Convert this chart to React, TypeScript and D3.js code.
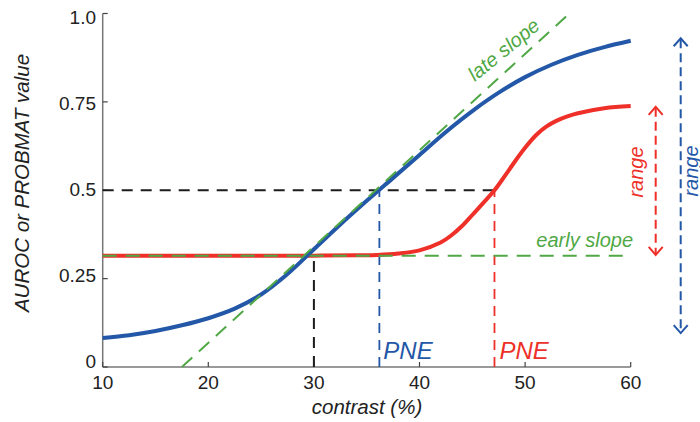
import React from "react";
import * as d3 from "d3";

// Contrast (%) sample points and the read-off curve values
const blueContrast = [10, 12.5, 15, 17.5, 20, 22.5, 25, 27.5, 30, 32.5, 35, 37.5, 40, 42.5, 45, 47.5, 50, 52.5, 55, 57.5, 60];
const blueValues = [0.082, 0.09, 0.102, 0.118, 0.138, 0.165, 0.205, 0.263, 0.333, 0.403, 0.47, 0.535, 0.6, 0.665, 0.724, 0.776, 0.82, 0.855, 0.883, 0.905, 0.923];

const redContrast = [10, 15, 20, 25, 30, 34, 36, 38, 40, 42, 43, 44, 45, 46, 47.1, 48, 49, 50, 51, 52, 53, 54, 55, 57.5, 60];
const redValues = [0.315, 0.315, 0.315, 0.315, 0.315, 0.316, 0.317, 0.321, 0.33, 0.352, 0.372, 0.398, 0.43, 0.463, 0.5, 0.537, 0.58, 0.62, 0.655, 0.68, 0.697, 0.709, 0.718, 0.732, 0.738];

// Reference lines
const earlySlope = [[10, 0.315], [60, 0.315]];
const lateSlope = [[17.5, 0], [54.2, 1.0]];
const halfLevel = 0.5;
const floorLevel = 0.315;
const crossContrast = 30;
const bluePNE = 36.2;
const redPNE = 47.1;

// Range arrows: [bottom, top] in value units
const redRange = [0.317, 0.736];
const blueRange = [0.096, 0.93];

// Axis ticks
const xTicks = [10, 20, 30, 40, 50, 60];
const yTicks = [0, 0.25, 0.5, 0.75, 1.0];
const yTickLabels = ["0", "0.25", "0.5", "0.75", "1.0"];

const BLUE = "#2357a7";
const RED = "#ee3029";
const GREEN = "#4fa845";
const BLACK = "#1c1c1c";
const AXIS = "#777";
const FONT = "'Liberation Sans', Arial, sans-serif";

export default function App() {
  const W = 700;
  const H = 422;
  const x = d3.scaleLinear().domain([10, 60]).range([102.7, 630.7]);
  const y = d3.scaleLinear().domain([0, 1]).range([367, 13.5]);
  // tick labels sit on a slightly tighter vertical spacing than the ticks
  const yLab = d3.scaleLinear().domain([0, 1]).range([361, 17.5]);

  const line = d3
    .line<[number, number]>()
    .x((d) => x(d[0]))
    .y((d) => y(d[1]))
    .curve(d3.curveCatmullRom.alpha(0.5));
  const straight = d3
    .line<[number, number]>()
    .x((d) => x(d[0]))
    .y((d) => y(d[1]));

  const bluePts = blueContrast.map((c, i) => [c, blueValues[i]] as [number, number]);
  const redPts = redContrast.map((c, i) => [c, redValues[i]] as [number, number]);

  const arrow = (cx: number, range: number[], color: string) => {
    const y0 = y(range[0]);
    const y1 = y(range[1]);
    return (
      <g stroke={color} strokeWidth={2} fill="none">
        <line x1={cx} x2={cx} y1={y1 + 1} y2={y0 - 1} strokeDasharray="9 5" />
        <path d={`M${cx - 7},${y1 + 8} L${cx},${y1} L${cx + 7},${y1 + 8}`} />
        <path d={`M${cx - 7},${y0 - 8} L${cx},${y0} L${cx + 7},${y0 - 8}`} />
      </g>
    );
  };

  return (
    <svg
      width={W}
      height={H}
      style={{ position: "absolute", left: 0, top: 0, background: "#fff" }}
      fontFamily={FONT}
    >
      {/* axes */}
      <line x1={x(10)} x2={x(10)} y1={y(1)} y2={y(0)} stroke={AXIS} strokeWidth={1.5} />
      <line x1={x(10)} x2={x(60)} y1={y(0)} y2={y(0)} stroke={AXIS} strokeWidth={1.5} />
      {yTicks.map((t, i) => (
        <g key={"yt" + t}>
          <line x1={x(10)} x2={x(10) + 5} y1={y(t)} y2={y(t)} stroke="#444" strokeWidth={1.2} />
          <text x={96} y={yLab(t)} dy="0.35em" textAnchor="end" fontSize={19} fill="#222">
            {yTickLabels[i]}
          </text>
        </g>
      ))}
      {xTicks.map((t) => (
        <g key={"xt" + t}>
          <line x1={x(t)} x2={x(t)} y1={y(0)} y2={y(0) - 5} stroke="#444" strokeWidth={1.2} />
          <text x={x(t)} y={389} textAnchor="middle" fontSize={19} fill="#222">
            {t}
          </text>
        </g>
      ))}
      <text x={367} y={414} textAnchor="middle" fontSize={20.5} fontStyle="italic" fill="#222">
        contrast (%)
      </text>
      <text
        transform={`translate(29,183) rotate(-90)`}
        textAnchor="middle"
        fontSize={20.5}
        fontStyle="italic"
        fill="#222"
      >
        AUROC or PROBMAT value
      </text>

      {/* guide lines */}
      <line x1={x(10)} x2={x(redPNE)} y1={y(halfLevel)} y2={y(halfLevel)} stroke={BLACK} strokeWidth={2} strokeDasharray="11 8" />
      <line x1={x(crossContrast)} x2={x(crossContrast)} y1={y(0)} y2={y(floorLevel)} stroke={BLACK} strokeWidth={2} strokeDasharray="11 8" />
      <line x1={x(bluePNE)} x2={x(bluePNE)} y1={y(0)} y2={y(halfLevel)} stroke={BLUE} strokeWidth={1.8} strokeDasharray="10 7" />
      <line x1={x(redPNE)} x2={x(redPNE)} y1={y(0)} y2={y(halfLevel)} stroke={RED} strokeWidth={1.8} strokeDasharray="10 7" />

      {/* curves */}
      <path d={line(redPts) || ""} fill="none" stroke={RED} strokeWidth={4} />
      <path d={line(bluePts) || ""} fill="none" stroke={BLUE} strokeWidth={4} />

      {/* slopes */}
      <path d={straight(earlySlope as [number, number][]) || ""} fill="none" stroke={GREEN} strokeWidth={2} strokeDasharray="14 9" />
      <path d={straight(lateSlope as [number, number][]) || ""} fill="none" stroke={GREEN} strokeWidth={2} strokeDasharray="14 9" />

      {/* annotations */}
      <text x={633} y={247} textAnchor="end" fontSize={20} fontStyle="italic" fill={GREEN}>
        early slope
      </text>
      <text transform="translate(508,55) rotate(-39)" textAnchor="middle" fontSize={20} fontStyle="italic" fill={GREEN}>
        late slope
      </text>
      <text x={x(bluePNE) + 4} y={359} fontSize={24} fontStyle="italic" fill={BLUE}>
        PNE
      </text>
      <text x={x(redPNE) + 5} y={359} fontSize={24} fontStyle="italic" fill={RED}>
        PNE
      </text>

      {arrow(655.7, redRange, RED)}
      {arrow(680.7, blueRange, BLUE)}
      <text transform="translate(643,172) rotate(-90)" textAnchor="middle" fontSize={20} fontStyle="italic" fill={RED}>
        range
      </text>
      <text transform="translate(698,171) rotate(-90)" textAnchor="middle" fontSize={20} fontStyle="italic" fill={BLUE}>
        range
      </text>
    </svg>
  );
}
